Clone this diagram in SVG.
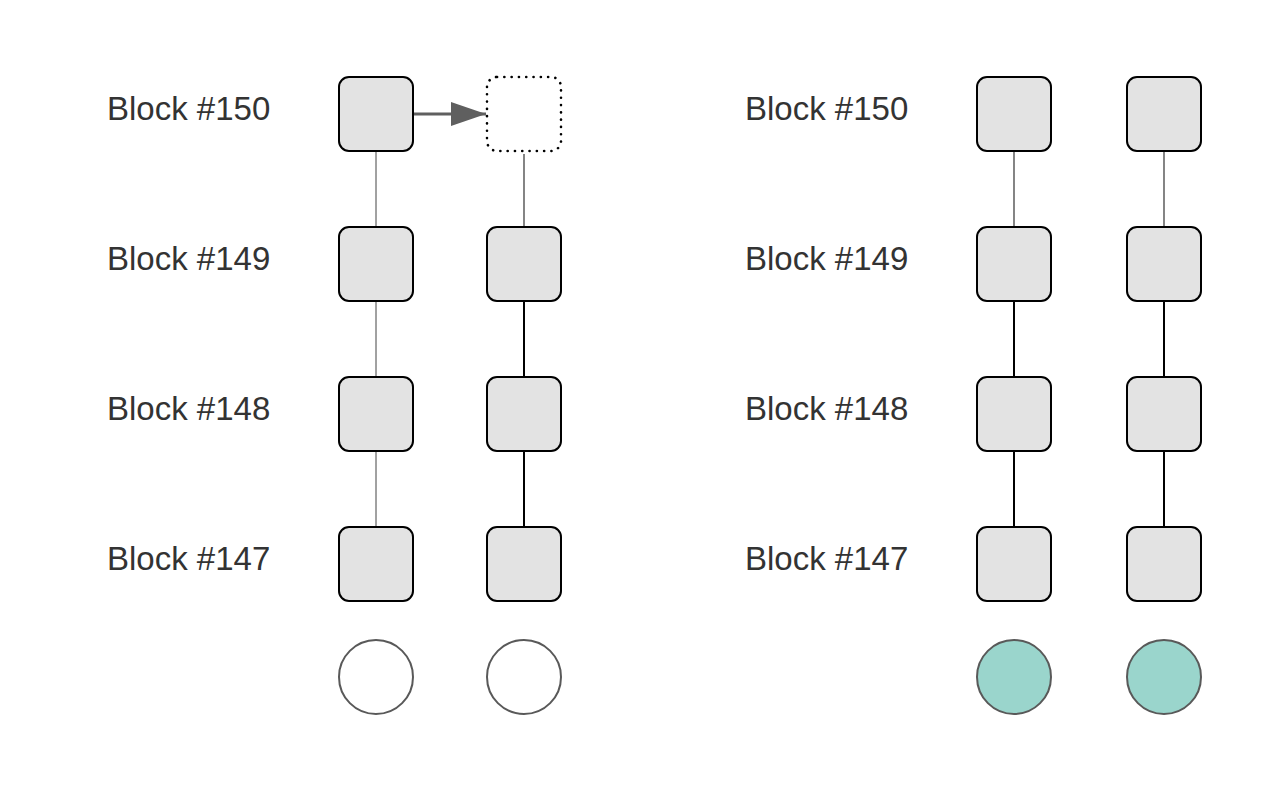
<svg xmlns="http://www.w3.org/2000/svg" width="1277" height="789" viewBox="0 0 1277 789">
<style>
.lbl{font-family:"Liberation Sans",Arial,sans-serif;font-size:33px;fill:#333333}
.blk{fill:#e3e3e3;stroke:#000;stroke-width:2}
.ghost{fill:#fff;stroke:#000;stroke-width:2.6;stroke-dasharray:0.1 7.2;stroke-linecap:round}
.thin{stroke:#444;stroke-width:1}
.gray{stroke:#666;stroke-width:1.6}
.dark{stroke:#000;stroke-width:2}
.cw{fill:#fff;stroke:#595959;stroke-width:2}
.cg{fill:#9ad5cc;stroke:#595959;stroke-width:2}
</style>
<defs>
<marker id="ah" markerUnits="userSpaceOnUse" markerWidth="36" markerHeight="24" refX="35" refY="12" orient="auto">
<path d="M0,0 L35,12 L0,24 Z" fill="#5f5f5f"/>
</marker>
</defs>
<rect width="1277" height="789" fill="#fff"/>
<g id="labels-left">
<text class="lbl" x="107" y="120">Block #150</text>
<text class="lbl" x="107" y="270">Block #149</text>
<text class="lbl" x="107" y="420">Block #148</text>
<text class="lbl" x="107" y="570">Block #147</text>
</g>
<g id="labels-right">
<text class="lbl" x="745" y="120">Block #150</text>
<text class="lbl" x="745" y="270">Block #149</text>
<text class="lbl" x="745" y="420">Block #148</text>
<text class="lbl" x="745" y="570">Block #147</text>
</g>
<g id="connectors">
<line class="thin" x1="376" y1="151" x2="376" y2="227"/>
<line class="thin" x1="376" y1="301" x2="376" y2="377"/>
<line class="thin" x1="376" y1="451" x2="376" y2="527"/>
<line class="gray" x1="524" y1="154" x2="524" y2="227"/>
<line class="dark" x1="524" y1="301" x2="524" y2="377"/>
<line class="dark" x1="524" y1="451" x2="524" y2="527"/>
<line class="gray" x1="1014" y1="151" x2="1014" y2="227"/>
<line class="dark" x1="1014" y1="301" x2="1014" y2="377"/>
<line class="dark" x1="1014" y1="451" x2="1014" y2="527"/>
<line class="gray" x1="1164" y1="151" x2="1164" y2="227"/>
<line class="dark" x1="1164" y1="301" x2="1164" y2="377"/>
<line class="dark" x1="1164" y1="451" x2="1164" y2="527"/>
<line x1="413" y1="114" x2="486" y2="114" stroke="#5f5f5f" stroke-width="3" marker-end="url(#ah)"/>
</g>
<g id="chainA">
<rect id="a150" class="blk" x="339" y="77" width="74" height="74" rx="10"/>
<rect id="a149" class="blk" x="339" y="227" width="74" height="74" rx="10"/>
<rect id="a148" class="blk" x="339" y="377" width="74" height="74" rx="10"/>
<rect id="a147" class="blk" x="339" y="527" width="74" height="74" rx="10"/>
<circle id="aNode" class="cw" cx="376" cy="677" r="37"/>
</g>
<g id="chainB">
<rect id="b150" class="ghost" x="487" y="77" width="74" height="74" rx="10"/>
<rect id="b149" class="blk" x="487" y="227" width="74" height="74" rx="10"/>
<rect id="b148" class="blk" x="487" y="377" width="74" height="74" rx="10"/>
<rect id="b147" class="blk" x="487" y="527" width="74" height="74" rx="10"/>
<circle id="bNode" class="cw" cx="524" cy="677" r="37"/>
</g>
<g id="chainC">
<rect id="c150" class="blk" x="977" y="77" width="74" height="74" rx="10"/>
<rect id="c149" class="blk" x="977" y="227" width="74" height="74" rx="10"/>
<rect id="c148" class="blk" x="977" y="377" width="74" height="74" rx="10"/>
<rect id="c147" class="blk" x="977" y="527" width="74" height="74" rx="10"/>
<circle id="cNode" class="cg" cx="1014" cy="677" r="37"/>
</g>
<g id="chainD">
<rect id="d150" class="blk" x="1127" y="77" width="74" height="74" rx="10"/>
<rect id="d149" class="blk" x="1127" y="227" width="74" height="74" rx="10"/>
<rect id="d148" class="blk" x="1127" y="377" width="74" height="74" rx="10"/>
<rect id="d147" class="blk" x="1127" y="527" width="74" height="74" rx="10"/>
<circle id="dNode" class="cg" cx="1164" cy="677" r="37"/>
</g>
</svg>
